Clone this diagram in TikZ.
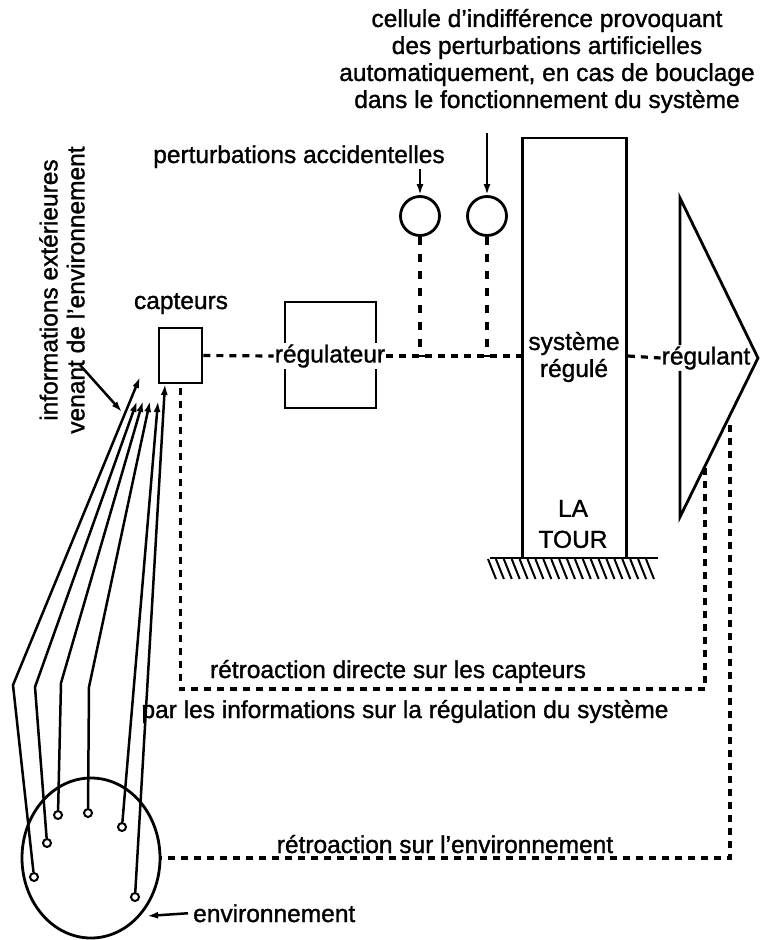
\documentclass[tikz,border=0pt]{standalone}
\usepackage{fontspec}
\setmainfont{Liberation Sans}[FakeBold=1.2]
\usetikzlibrary{arrows.meta,shapes.geometric,calc}
\begin{document}
\begin{tikzpicture}[x=1pt,y=-1pt,
  txt/.style={font=\fontsize{24.5}{27}\selectfont, inner sep=1pt},
  ln/.style={line width=2.8pt},
  dl/.style={line width=3.2pt, dash pattern=on 7pt off 6pt},
  dlv/.style={line width=3.2pt, dash pattern=on 8pt off 9pt},
  ar/.style={line width=2.5pt, -{Latex[length=11pt,width=7pt]}},
  box/.style={draw, line width=2.8pt, inner sep=0pt},
  dot/.style={draw, circle, line width=2pt, minimum size=8pt, inner sep=0pt, fill=white}]
\useasboundingbox (0,0) rectangle (760,940);

% ---- texts
\node[txt, align=center] (cell) at (547,61) {cellule d’indifférence provoquant\\des perturbations artificielles\\automatiquement, en cas de bouclage\\dans le fonctionnement du système};
\node[txt, anchor=base] (pacc) at (299,163) {perturbations accidentelles};
\node[txt, anchor=base] (captlab) at (181,309) {capteurs};
\node[txt, align=center, rotate=90] (info) at (62,290) {informations extérieures\\venant de l’environnement};

% ---- tower
\node[box, minimum width=104pt, minimum height=420pt] (tour) at (574.5,348) {};
\node[txt, align=center] (sys) at (574,357) {système\\régulé};
\node[txt, align=center] (latour) at (573,524) {LA\\[4pt]TOUR};
\coordinate (g1) at (490,558);
\coordinate (g2) at (658,558);
\draw[ln] (g1) -- (g2);
\foreach \i in {0,...,20} \draw[line width=2pt] ($(g1)+(-2+7.9*\i,1)$) -- ++(8,20);

% ---- capteurs and regulateur
\node[box, minimum width=43pt, minimum height=55pt] (capt) at (180.5,355.5) {};
\node[box, minimum width=91pt, minimum height=106pt] (regbox) at (330.5,355) {};
\node[txt, fill=white] (reg) at (330,356) {régulateur};

% ---- perturbation cells
\node[draw, circle, line width=2.8pt, minimum size=39pt, inner sep=0pt] (c1) at (420,216) {};
\node[draw, circle, line width=2.8pt, minimum size=39pt, inner sep=0pt] (c2) at (487,216) {};
\coordinate (c2in) at (487,133);
\draw[ar] (c1.north |- pacc.south) -- (c1.north);
\draw[ar] (c2in) -- (c2.north);

% ---- regulant triangle
\coordinate (tt) at (680,198);
\coordinate (tip) at (758,358);
\coordinate (tb) at (680,517);
\node[txt] (regl) at (706,358) {régulant};
\draw[ln, line join=miter] (tt |- regl.north) -- (tt) -- (tip) -- (tb) -- (tb |- regl.south);

% ---- main chain (dashed)
\draw[dl] (capt.east) -- (reg.west);
\draw[dl] (reg.east) -- (reg.east -| tour.west);
\draw[dl] (reg.east -| tour.east) -- (regl.west);
\coordinate (j1) at (c1.south |- reg.east);
\coordinate (j2) at (c2.south |- reg.east);
\draw[dlv] (c1.south) -- (j1);
\draw[dlv] (c2.south) -- (j2);
\draw[ln] ([xshift=-5pt]j1) -- ([xshift=5pt]j1);
\draw[ln] ([xshift=-5pt]j2) -- ([xshift=5pt]j2);

% ---- feedbacks
\coordinate (fb1) at (705,468);
\coordinate (rd) at (705,689);
\draw[dl] (fb1) -- (rd) -| (capt.south);
\node[txt, anchor=base] (rdir) at (398,678) {rétroaction directe sur les capteurs};
\node[txt, anchor=base] (pinf) at (405,718) {par les informations sur la régulation du système};

\node[draw, ellipse, line width=2.8pt, minimum width=138pt, minimum height=160pt, inner sep=0pt] (env) at (91,858) {};
\coordinate (fb2) at (730,425);
\draw[dl] (fb2) |- (env.east);
\node[txt, anchor=base] (renv) at (445,853) {rétroaction sur l’environnement};
\node[txt, anchor=base west] (envlab) at (192,922) {environnement};
\coordinate (envin) at (147,916);
\draw[ar] ([xshift=-4pt]envlab.west) -- (envin);

% ---- information lines from environment
\node[dot] (p1) at (34,877) {};
\node[dot] (p2) at (47,843) {};
\node[dot] (p3) at (58,815) {};
\node[dot] (p4) at (88,813) {};
\node[dot] (p5) at (122,827) {};
\node[dot] (p6) at (135,897) {};
\coordinate (k1) at (13,685);
\coordinate (k2) at (35,687);
\coordinate (k3) at (61,683);
\coordinate (k4) at (89,687);
\coordinate (a1) at (140,377);
\coordinate (a2) at (137,401);
\coordinate (a3) at (143,401);
\coordinate (a4) at (150,401);
\coordinate (a5) at (158,401);
\coordinate (a6) at (165,384);
\draw[ar] (p1) -- (k1) -- (a1);
\draw[ar] (p2) -- (k2) -- (a2);
\draw[ar] (p3) -- (k3) -- (a3);
\draw[ar] (p4) -- (k4) -- (a4);
\draw[ar] (p5) -- (a5);
\draw[ar] (p6) -- (a6);

\coordinate (iA) at (80,365);
\coordinate (iB) at (122,412);
\draw[ar] (iA) -- (iB);
\end{tikzpicture}
\end{document}
